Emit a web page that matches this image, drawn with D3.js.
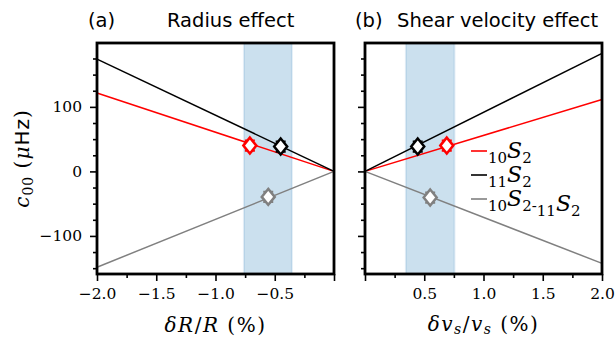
<!DOCTYPE html>
<html>
<head>
<meta charset="utf-8">
<script src="https://cdn.jsdelivr.net/npm/d3@7"></script>
<style>
  body { margin: 0; background: white; }
  svg { display: block; }
</style>
</head>
<body>
<div id="chart"></div>
<script>
const width = 615;
const height = 341;
const TOP = 43;
const BOTTOM = 274;

// line end values (the other end is at 0,0)
const series = ["10S2", "11S2", "10S2-11S2"];
const colors = ["#ff0000", "#000000", "#808080"];
const radiusEnd = [121.5, 174, -148.5];   // value at dR/R = -2 %
const shearEnd = [111.5, 183, -142.5];    // value at dvs/vs = 2 %

// measured points (x, c00)
const radiusPtsX = [-0.71, -0.45, -0.555];
const radiusPtsY = [40, 38.5, -39.5];
const shearPtsX = [0.69, 0.445, 0.55];
const shearPtsY = [40, 38.5, -40.5];
const errY = 8;

// shaded ranges
const radiusBand = [-0.76, -0.355];
const shearBand = [0.345, 0.755];

const yTicks = [-100, 0, 100];
const yMinor = [-150, -125, -75, -50, -25, 25, 50, 75, 125, 150, 175];
const radiusTicks = [-2.0, -1.5, -1.0, -0.5, 0];
const radiusMinor = [-1.75, -1.25, -0.75, -0.25];
const shearTicks = [0, 0.5, 1.0, 1.5, 2.0];
const shearMinor = [0.25, 0.75, 1.25, 1.75];

const svg = d3.select("#chart").append("svg")
    .attr("width", width)
    .attr("height", height);

const y = d3.scaleLinear().domain([-159, 199]).range([BOTTOM, TOP]);
const xA = d3.scaleLinear().domain([-2, 0]).range([97, 334]);
const xB = d3.scaleLinear().domain([0, 2]).range([365, 602]);

const fmt = d3.format(".1f");

function panel(x, ends, xEnd, ptsX, ptsY, band, ticks, minor, showYLabels) {
    const g = svg.append("g");

    // shaded band
    g.append("rect")
        .attr("x", x(band[0]))
        .attr("y", TOP)
        .attr("width", x(band[1]) - x(band[0]))
        .attr("height", BOTTOM - TOP)
        .attr("fill", "#1f77b4")
        .attr("fill-opacity", 0.23)
        .attr("stroke", "#1f77b4")
        .attr("stroke-opacity", 0.12)
        .attr("stroke-width", 2);

    // lines
    g.selectAll("line.series")
        .data(ends)
        .join("line")
        .attr("class", "series")
        .attr("x1", x(0)).attr("y1", y(0))
        .attr("x2", x(xEnd)).attr("y2", d => y(d))
        .attr("stroke", (d, i) => colors[i])
        .attr("stroke-width", 1.5);

    // points with error bars
    const pts = g.selectAll("g.pt")
        .data(ptsX.map((d, i) => ({x: d, y: ptsY[i], c: colors[i]})))
        .join("g")
        .attr("class", "pt")
        .attr("transform", d => `translate(${x(d.x)},${y(d.y)})`);
    const ey = y(0) - y(errY);
    pts.append("path")
        .attr("d", `M0,${-ey}V${ey}M-5,${-ey}H5M-5,${ey}H5`)
        .attr("stroke", d => d.c)
        .attr("stroke-width", 2)
        .attr("fill", "none");
    pts.append("path")
        .attr("d", "M0,-8L6.5,0L0,8L-6.5,0Z")
        .attr("fill", "white")
        .attr("stroke", d => d.c)
        .attr("stroke-width", 2.5);

    // axes
    g.append("g")
        .attr("transform", `translate(0,${BOTTOM})`)
        .call(d3.axisBottom(x).tickValues(ticks).tickSize(7).tickPadding(7)
            .tickFormat(d => d === 0 ? "" : fmt(d)));
    g.append("g")
        .attr("transform", `translate(0,${BOTTOM})`)
        .call(d3.axisBottom(x).tickValues(minor).tickSize(4).tickFormat(""));
    g.append("g")
        .attr("transform", `translate(${x.range()[0]},0)`)
        .call(d3.axisLeft(y).tickValues(yTicks).tickSize(7).tickPadding(8)
            .tickFormat(d => showYLabels ? d3.format("d")(d) : ""));
    g.append("g")
        .attr("transform", `translate(${x.range()[0]},0)`)
        .call(d3.axisLeft(y).tickValues(yMinor).tickSize(4).tickFormat(""));

    g.selectAll(".domain").remove();
    g.selectAll(".tick line").attr("stroke", "black").attr("stroke-width", 1.6);
    g.selectAll(".tick text")
        .attr("font-family", "DejaVu Serif")
        .attr("font-size", 15.5)
        .attr("fill", "black");

    // frame
    g.append("rect")
        .attr("x", x.range()[0])
        .attr("y", TOP)
        .attr("width", x.range()[1] - x.range()[0])
        .attr("height", BOTTOM - TOP)
        .attr("fill", "none")
        .attr("stroke", "black")
        .attr("stroke-width", 2.8);
}

panel(xA, radiusEnd, -2, radiusPtsX, radiusPtsY, radiusBand, radiusTicks, radiusMinor, true);
panel(xB, shearEnd, 2, shearPtsX, shearPtsY, shearBand, shearTicks, shearMinor, false);

// titles
const titleFont = "DejaVu Sans";
svg.append("text").attr("x", 88).attr("y", 27).attr("font-family", titleFont)
    .attr("font-size", 19.5).text("(a)");
svg.append("text").attr("x", 167).attr("y", 27).attr("font-family", titleFont)
    .attr("font-size", 19.5).text("Radius effect");
svg.append("text").attr("x", 355).attr("y", 27).attr("font-family", titleFont)
    .attr("font-size", 19.5).text("(b)");
svg.append("text").attr("x", 397).attr("y", 27).attr("font-family", titleFont)
    .attr("font-size", 19.5).text("Shear velocity effect");

// axis labels
const serif = "DejaVu Serif";
const xlabA = svg.append("text")
    .attr("x", (xA.range()[0] + xA.range()[1]) / 2).attr("y", 332)
    .attr("text-anchor", "middle").attr("font-family", serif).attr("font-size", 20)
    .attr("letter-spacing", 1.5);
xlabA.append("tspan").attr("font-style", "italic").text("δR");
xlabA.append("tspan").text("/");
xlabA.append("tspan").attr("font-style", "italic").text("R");
xlabA.append("tspan").text(" (%)");

const xlabB = svg.append("text")
    .attr("x", (xB.range()[0] + xB.range()[1]) / 2).attr("y", 331)
    .attr("text-anchor", "middle").attr("font-family", serif).attr("font-size", 20)
    .attr("letter-spacing", 1.5);
xlabB.append("tspan").attr("font-style", "italic").text("δv");
xlabB.append("tspan").attr("font-style", "italic").attr("font-size", 14).attr("dy", 3).text("s");
xlabB.append("tspan").attr("dy", -3).text("/");
xlabB.append("tspan").attr("font-style", "italic").text("v");
xlabB.append("tspan").attr("font-style", "italic").attr("font-size", 14).attr("dy", 3).text("s");
xlabB.append("tspan").attr("dy", -3).text(" (%)");

const ylab = svg.append("text")
    .attr("transform", `translate(29,${(TOP + BOTTOM) / 2}) rotate(-90)`)
    .attr("text-anchor", "middle").attr("font-family", serif).attr("font-size", 20)
    .attr("letter-spacing", 1);
ylab.append("tspan").attr("font-style", "italic").text("c");
ylab.append("tspan").attr("font-size", 14).attr("dy", 4).text("00");
ylab.append("tspan").attr("dy", -4).text(" (");
ylab.append("tspan").attr("font-style", "italic").text("μ");
ylab.append("tspan").attr("font-family", "DejaVu Sans").text("Hz");
ylab.append("tspan").text(")");

// legend
const legend = svg.append("g").attr("transform", "translate(471,151)");
const rows = legend.selectAll("g")
    .data(series)
    .join("g")
    .attr("transform", (d, i) => `translate(0,${i * 24})`);
rows.append("line")
    .attr("x1", 0).attr("x2", 16)
    .attr("stroke", (d, i) => colors[i])
    .attr("stroke-width", 1.6);
rows.each(function(d) {
    const t = d3.select(this).append("text")
        .attr("x", 17).attr("y", 7)
        .attr("font-family", serif).attr("font-size", 22);
    const parts = d.split("-");
    parts.forEach(function(p, k) {
        if (k > 0) t.append("tspan").attr("font-size", 15).text("-");
        const m = p.match(/^(\d+)S(\d+)$/);
        t.append("tspan").attr("font-size", 15).attr("dy", 5).text(m[1]);
        t.append("tspan").attr("font-style", "italic").attr("dy", -5).text("S");
        t.append("tspan").attr("font-size", 15).attr("dy", 5).text(m[2]);
        t.append("tspan").attr("font-size", 15).attr("dy", -5).text("");
    });
});
</script>
</body>
</html>
